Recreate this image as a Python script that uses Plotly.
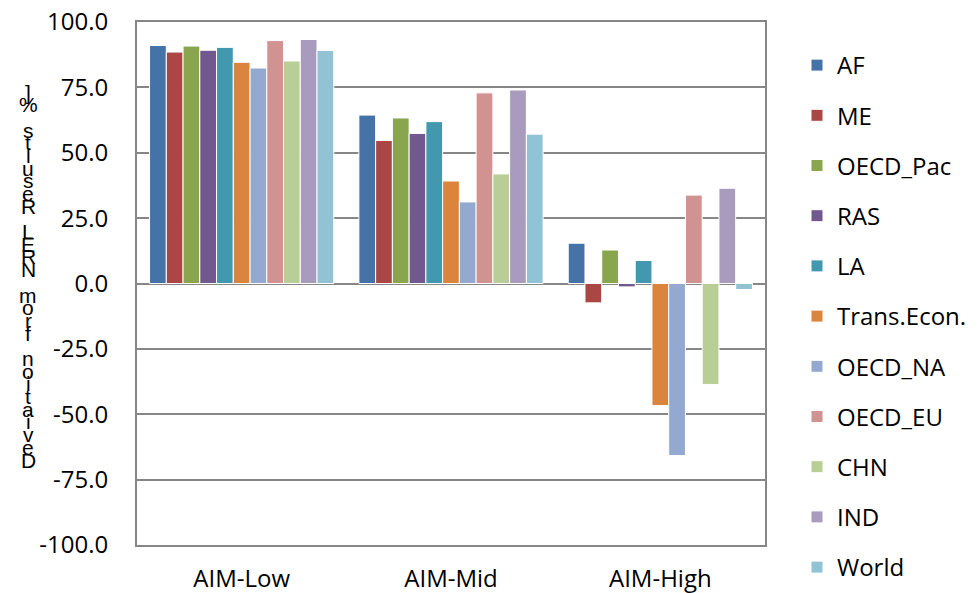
import plotly.graph_objects as go

categories = ["AIM-Low", "AIM-Mid", "AIM-High"]
regions = ["AF", "ME", "OECD_Pac", "RAS", "LA", "Trans.Econ.", "OECD_NA", "OECD_EU", "CHN", "IND", "World"]
colors = ["#4572A7", "#AA4643", "#89A54E", "#71588F", "#4198AF", "#DB843D",
          "#93A9CF", "#D19392", "#B9CD96", "#A99BBD", "#92C3D4"]

AF = [91.0, 64.4, 15.4]
ME = [88.5, 54.7, -7.4]
OECD_Pac = [90.8, 63.3, 12.8]
RAS = [89.2, 57.4, -1.3]
LA = [90.3, 61.9, 8.8]
Trans_Econ = [84.6, 39.2, -46.7]
OECD_NA = [82.4, 31.2, -65.8]
OECD_EU = [92.9, 72.9, 33.8]
CHN = [85.1, 41.9, -38.6]
IND = [93.3, 74.0, 36.4]
World = [89.1, 57.1, -2.3]
series = [AF, ME, OECD_Pac, RAS, LA, Trans_Econ, OECD_NA, OECD_EU, CHN, IND, World]

y_ticks = [-100, -75, -50, -25, 0, 25, 50, 75, 100]
y_ticktext = ["-100.0", "-75.0", "-50.0", "-25.0", "0.0", "25.0", "50.0", "75.0", "100.0"]
y_title = "Deviation from NREL Results %]"

FONT = "Open Sans"
GRID = "#868686"

fig = go.Figure()
for name, vals, col in zip(regions, series, colors):
    fig.add_trace(go.Bar(
        x=categories, y=vals, name=name, legendgroup=name,
        marker=dict(color=col, line=dict(color="white", width=1)),
    ))

# page body adds an 8px offset; figure is sized to compensate
OFF = 8
W, H = 978 - OFF, 593 - OFF
L, T = 137 - OFF, 22 - OFF
R = W - (765 - OFF)
B = H - (545 - OFF)
plot_w = W - L - R
plot_h = H - T - B

# stacked (garbled) vertical axis title, drawn char by char
chars = list(y_title[::-1])
n = len(chars)
top_px, bot_px = 92 - OFF, 460 - OFF
for i, ch in enumerate(chars):
    ypx = top_px + i * (bot_px - top_px) / (n - 1)
    fig.add_annotation(
        text=ch, xref="paper", yref="paper",
        x=(28 - OFF - L) / plot_w, y=1 - (ypx - T) / plot_h,
        xanchor="center", yanchor="middle", showarrow=False,
        font=dict(family="Liberation Sans", size=21, color="black"),
    )

fig.update_layout(
    width=W, height=H,
    margin=dict(l=L, r=R, t=T, b=B, autoexpand=False),
    paper_bgcolor="white", plot_bgcolor="white",
    barmode="group", bargap=0.12, bargroupgap=0,
    font=dict(family=FONT, size=24, color="black"),
    showlegend=True,
    legend=dict(
        x=1.0 + (789 - (L + plot_w)) / plot_w, y=1 - (35 - T) / plot_h,
        xanchor="left", yanchor="top",
        traceorder="grouped", tracegroupgap=16,
        maxheight=800,
        font=dict(family=FONT, size=24, color="black"),
        bgcolor="rgba(0,0,0,0)",
    ),
    xaxis=dict(
        type="category", showgrid=False,
        showline=True, linecolor=GRID, linewidth=2, mirror=True,
        ticks="", ticklabelstandoff=11, ticklabeloverflow="allow",
        tickfont=dict(family=FONT, size=24),
    ),
    xaxis2=dict(
        overlaying="x", anchor="free", position=0.5, side="bottom",
        range=[-0.5, 2.5], showgrid=False, zeroline=False,
        showline=True, linecolor=GRID, linewidth=2,
        tickmode="array", tickvals=[-0.5, 0.5, 1.5, 2.5],
        ticks="outside", ticklen=8, tickwidth=2, tickcolor=GRID,
        showticklabels=False,
    ),
    yaxis=dict(
        range=[-100, 100], tickmode="array", tickvals=y_ticks, ticktext=y_ticktext,
        showgrid=True, gridcolor=GRID, gridwidth=2,
        zeroline=False,
        showline=True, linecolor=GRID, linewidth=2, mirror=True,
        ticks="", ticklabelstandoff=22, ticklabeloverflow="allow",
        tickfont=dict(family=FONT, size=24),
    ),
)

fig.write_html("out.html")
